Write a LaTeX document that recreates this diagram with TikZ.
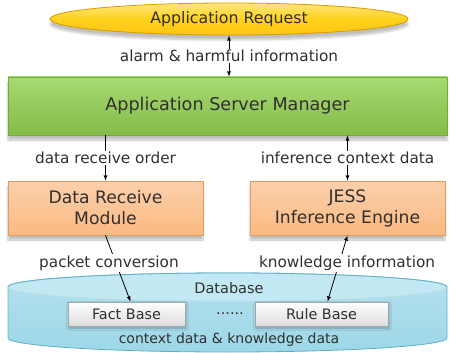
\documentclass[tikz,border=0pt]{standalone}
\usepackage{fontspec}
\setmainfont{DejaVu Sans}
\usetikzlibrary{shapes.geometric,shadows.blur}

\definecolor{reqgold}{HTML}{FFD21A}
\definecolor{reqedge}{HTML}{D99A00}
\definecolor{asmgreen}{HTML}{92D050}
\definecolor{asmedge}{HTML}{6FAE2E}
\definecolor{modpeach}{HTML}{FAC090}
\definecolor{modedge}{HTML}{E39A5E}
\definecolor{dbblue}{HTML}{9DD7E8}
\definecolor{dbedge}{HTML}{5EAFC6}
\definecolor{dbtop}{HTML}{C2E9F3}
\definecolor{basegray}{HTML}{DCDCDC}
\definecolor{textgray}{HTML}{303030}

\tikzset{
  softshadow/.style={blur shadow={shadow xshift=0pt, shadow yshift=-5pt, shadow blur steps=6, shadow opacity=25}},
  request/.style={ellipse, draw=reqedge, top color=reqgold!55!white, bottom color=reqgold!85!orange, middle color=reqgold,
    minimum width=358pt, minimum height=32pt, inner sep=0pt, font=\fontsize{15.8}{17}\selectfont, softshadow},
  manager/.style={draw=asmedge, top color=asmgreen!80!white, bottom color=asmgreen!90!black,
    minimum width=439pt, minimum height=58pt, font=\fontsize{17.6}{19}\selectfont, softshadow},
  module/.style={draw=modedge, top color=modpeach!75!white, bottom color=modpeach!90!orange, align=center,
    minimum width=195pt, minimum height=54pt, font=\fontsize{17.2}{21}\selectfont, softshadow},
  base/.style={draw=gray!70, top color=white, bottom color=basegray, minimum height=24pt,
    font=\fontsize{14.4}{16}\selectfont, blur shadow={shadow xshift=1pt, shadow yshift=-2pt, shadow opacity=30}},
  tag/.style={fill=white, inner sep=1.5pt, font=\fontsize{15.3}{17}\selectfont},
  plain/.style={font=\fontsize{14.5}{16}\selectfont}
}

\begin{document}
\begin{tikzpicture}[x=1pt, y=-1pt, >=latex, line width=0.8pt, every node/.append style={text=textgray}]

\useasboundingbox (0,0) rectangle (450,353);

% database drum
\path[draw=dbedge, top color=dbblue!75!white, bottom color=dbblue] (8,287) -- (8,338)
  arc[start angle=180, end angle=360, x radius=219.5pt, y radius=14pt] -- (447,287)
  arc[start angle=0, end angle=180, x radius=219.5pt, y radius=14pt] -- cycle;
\path[draw=dbedge!40, fill=dbtop] (227.5,287) ellipse [x radius=219.5pt, y radius=14pt];
\draw[dbedge] (8,287) arc[start angle=180, end angle=0, x radius=219.5pt, y radius=14pt];

% nodes
\node[request] (req) at (229,19) {Application Request};
\node[manager] (asm) at (227.5,106) {Application Server Manager};
\node[module] (drm) at (105.5,208) {Data Receive\\Module};
\node[module] (jess) at (347.5,208) {JESS\\Inference Engine};
\node[plain] (db) at (229,288) {Database};
\node[base, minimum width=117pt] (fact) at (126.5,314) {Fact Base};
\node[base, minimum width=133pt] (rule) at (321.5,314) {Rule Base};
\node[plain] (gap) at (230,314) {......};
\node[plain, font=\fontsize{14}{16}\selectfont] (dbdata) at (229,340) {context data \& knowledge data};

% arrows
\path[<->] (req.south) edge node[tag] {alarm \& harmful information} (req.south |- asm.north);
\path[->] (drm.north |- asm.south) edge node[tag] {data receive order} (drm.north);
\path[<->] (jess.north |- asm.south) edge node[tag] {inference context data} (jess.north);
\path[->] (drm.south) edge node[tag, pos=0.42, xshift=-7pt] {packet conversion} ([xshift=4pt]fact.north);
\path[<->] (jess.south) edge node[tag, pos=0.42, xshift=8pt] {knowledge information} ([xshift=6pt]rule.north);

\end{tikzpicture}
\end{document}
